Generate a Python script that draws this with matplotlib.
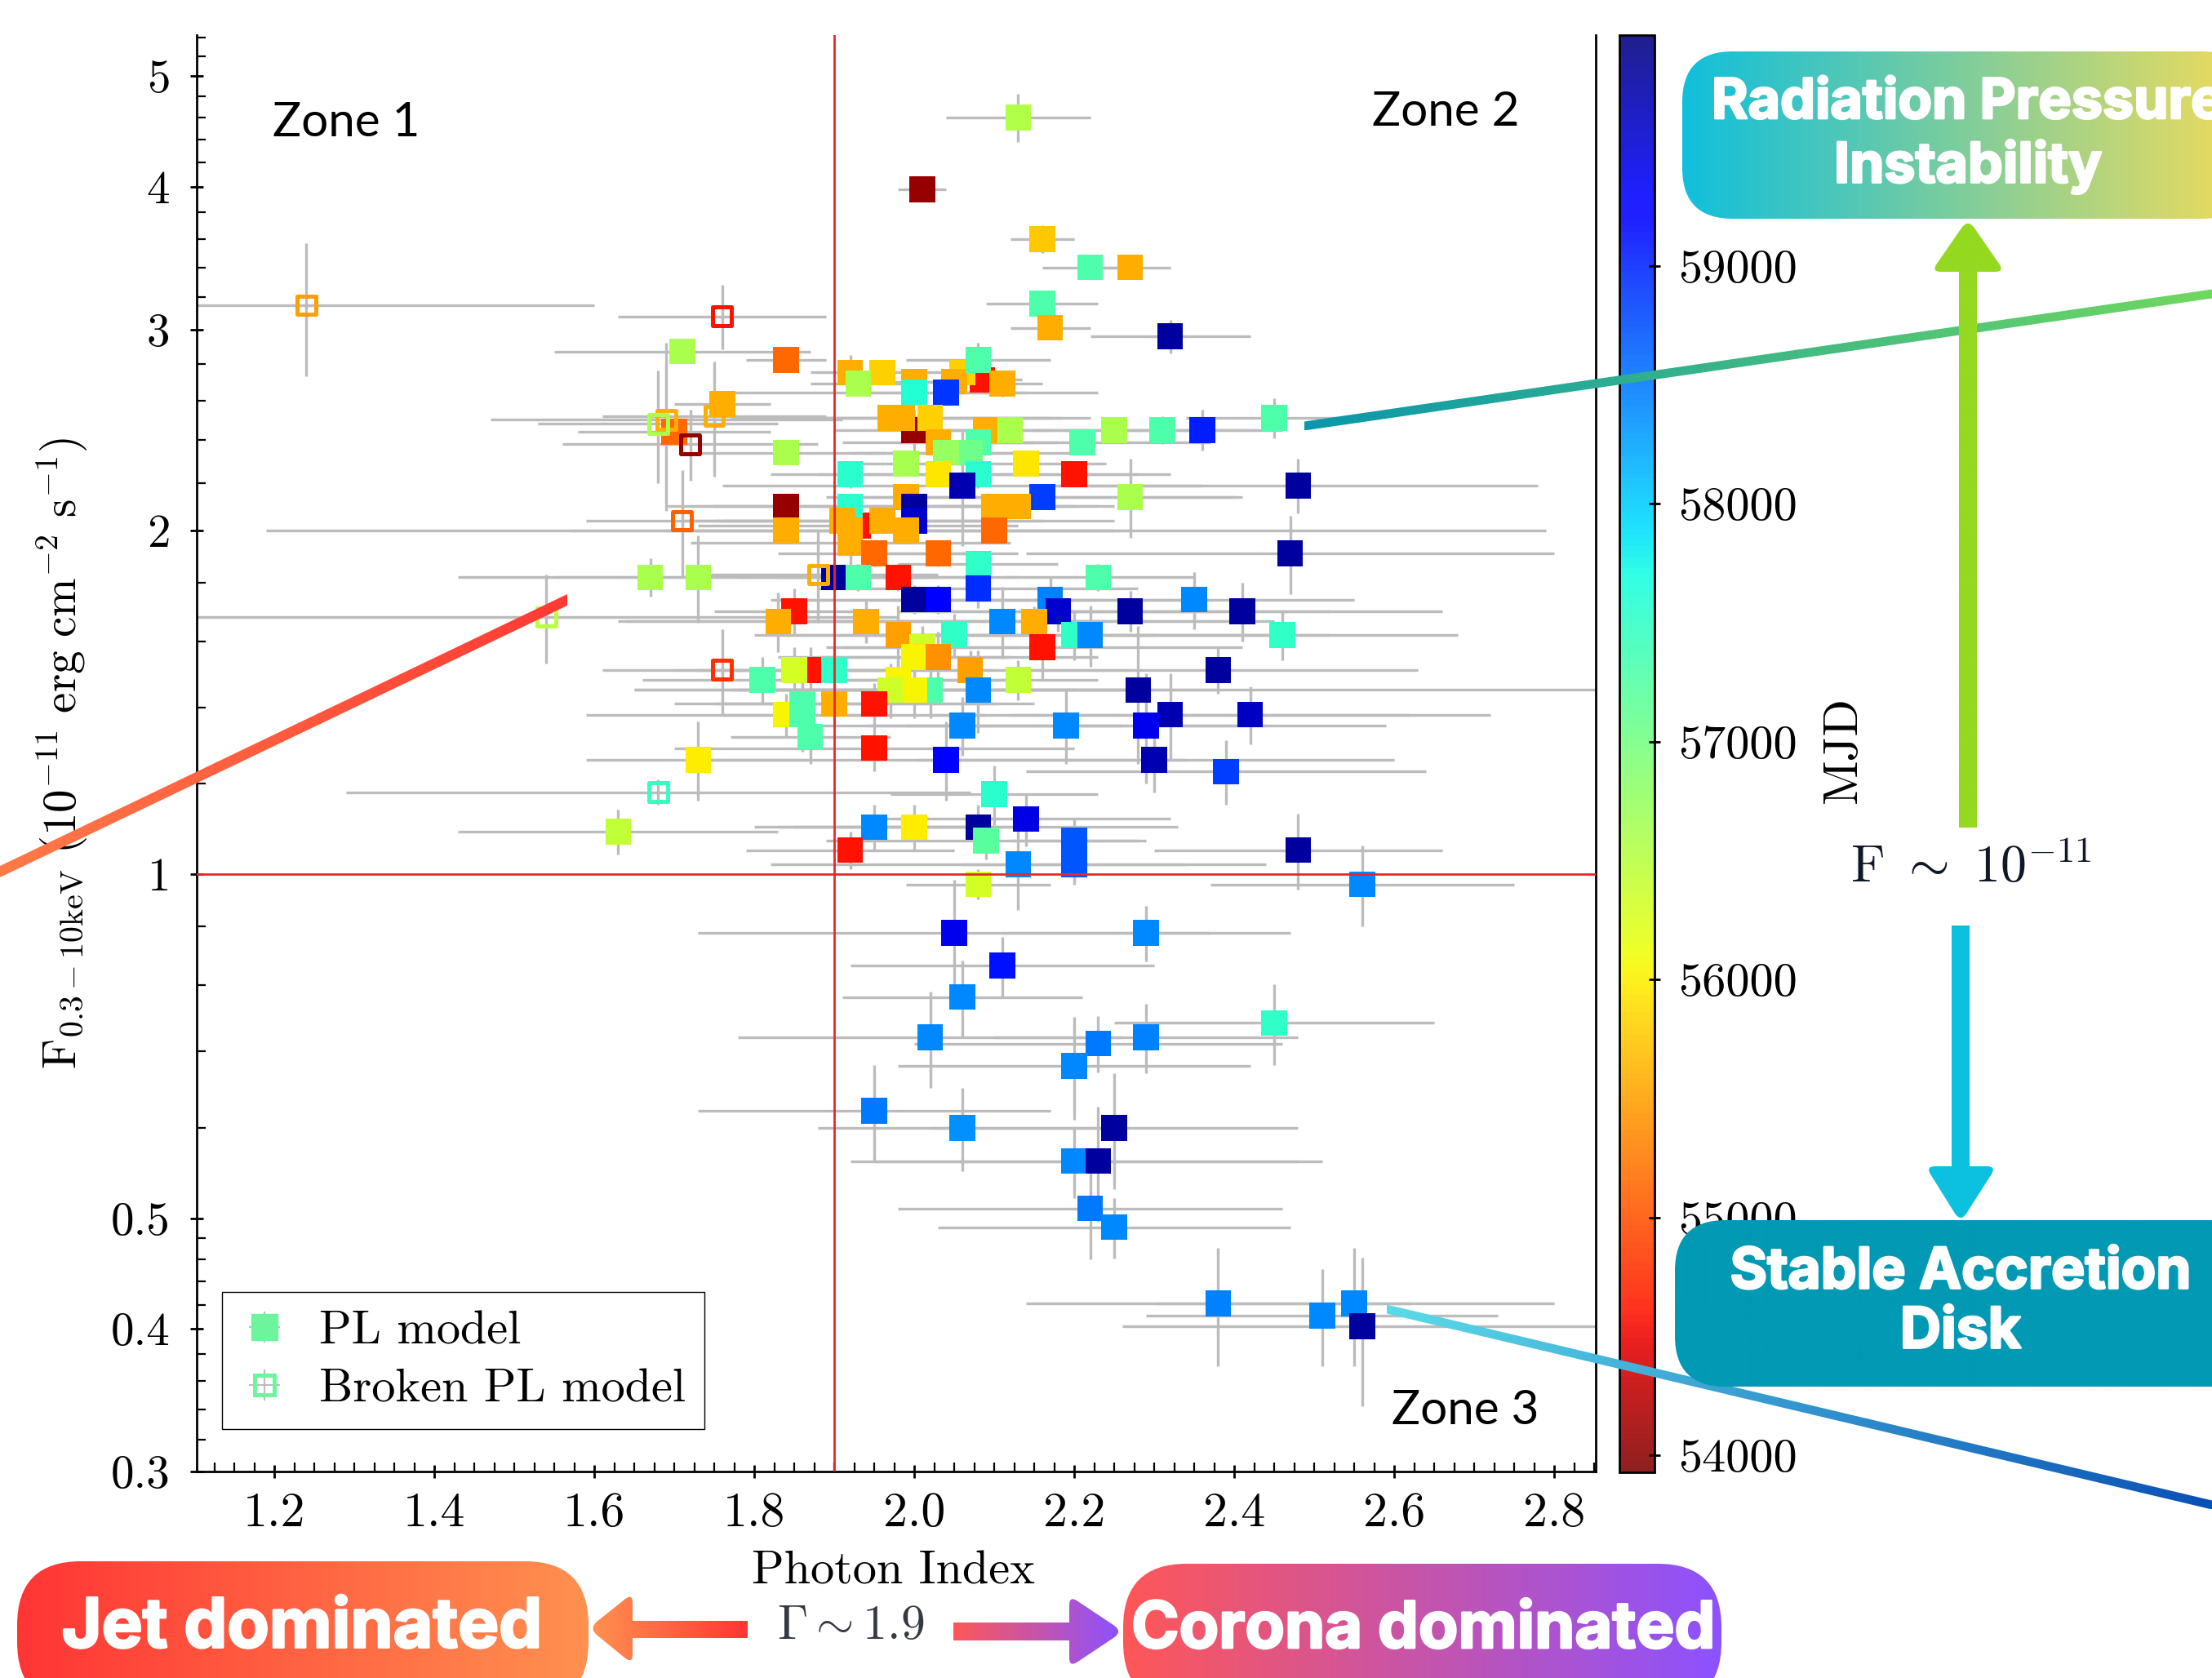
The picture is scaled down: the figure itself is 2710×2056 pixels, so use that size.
import numpy as np
import matplotlib
matplotlib.use('Agg')
import matplotlib.pyplot as plt
import matplotlib.patheffects as pe
from matplotlib.colors import to_rgb
from matplotlib.lines import Line2D
from matplotlib.patches import FancyBboxPatch, PathPatch
from matplotlib.path import Path
from matplotlib.ticker import FixedLocator, FixedFormatter, NullFormatter

plt.rcParams['font.family'] = ['cmr10', 'DejaVu Sans']
plt.rcParams['mathtext.fontset'] = 'cm'
plt.rcParams['axes.formatter.use_mathtext'] = True

W, H = 2710, 2056

# PL model points
pl_gamma = [2.085, 2.00, 1.93, 1.87,
            2.13, 2.01, 2.16, 2.22, 2.27, 2.16, 2.17, 2.32, 1.84, 1.92, 1.96, 2.00, 1.93, 2.06, 2.05, 2.08, 2.11, 2.00, 2.04,
            1.71, 1.76, 1.70, 1.84, 1.97, 1.985, 2.02, 2.03, 2.09, 2.12, 2.08, 2.07, 2.04, 1.99, 2.14, 2.21, 2.25, 2.31, 2.36,
            2.45, 2.20, 1.92, 2.08, 2.03, 2.06, 2.48, 2.27, 2.16, 1.99, 2.00, 2.00, 2.10, 2.13, 1.84, 1.92, 1.84, 1.91, 1.96,
            1.99, 2.10, 1.92, 1.92, 1.95, 2.03, 2.08, 2.47, 1.90, 1.93, 1.98, 1.67, 1.73, 2.23, 2.08, 2.00, 2.03, 2.17, 2.35, 2.18,
            2.27, 2.41, 2.11, 1.85, 1.83, 1.94, 2.15, 1.98, 2.05, 2.20, 2.22, 2.46, 2.16, 2.01, 2.00, 2.03, 2.07, 2.38, 1.85,
            1.90, 1.81, 2.13, 1.98, 2.28, 2.08, 2.02, 2.00, 1.97, 1.86, 1.90, 1.95, 2.32, 2.42, 1.84, 1.86, 2.06, 2.19, 2.29, 1.87,
            1.95, 2.30, 2.04, 1.73, 2.39, 2.10, 1.63,
            1.95, 2.00, 2.08, 2.14, 2.09, 1.92, 2.13, 2.20, 2.20, 2.48, 2.56, 2.08, 2.05, 2.29, 2.11, 2.06, 2.02, 2.23, 2.29, 2.45,
            2.20, 1.95, 2.06, 2.25, 2.20, 2.23, 2.22, 2.25, 2.38, 2.51, 2.55, 2.56]
pl_flux = [2.71, 2.45, 2.02, 1.51,
           4.60, 3.98, 3.60, 3.40, 3.40, 3.16, 3.01, 2.96, 2.82, 2.75, 2.75, 2.70, 2.69, 2.75, 2.70, 2.82, 2.69, 2.64, 2.64,
           2.87, 2.58, 2.44, 2.34, 2.51, 2.51, 2.51, 2.39, 2.45, 2.45, 2.39, 2.34, 2.34, 2.29, 2.29, 2.39, 2.45, 2.45, 2.45,
           2.51, 2.24, 2.24, 2.24, 2.24, 2.19, 2.19, 2.14, 2.14, 2.14, 2.10, 2.04, 2.10, 2.10, 2.10, 2.10, 2.00, 2.04, 2.04,
           2.00, 2.00, 2.00, 1.95, 1.91, 1.91, 1.87, 1.91, 1.82, 1.82, 1.82, 1.82, 1.82, 1.82, 1.78, 1.74, 1.74, 1.74, 1.74, 1.70,
           1.70, 1.70, 1.665, 1.70, 1.665, 1.665, 1.665, 1.62, 1.62, 1.62, 1.62, 1.62, 1.58, 1.58, 1.55, 1.55, 1.51, 1.51, 1.51,
           1.51, 1.48, 1.48, 1.48, 1.45, 1.45, 1.45, 1.45, 1.45, 1.41, 1.41, 1.41, 1.38, 1.38, 1.38, 1.38, 1.35, 1.35, 1.35, 1.32,
           1.29, 1.26, 1.26, 1.26, 1.23, 1.175, 1.09,
           1.10, 1.10, 1.10, 1.118, 1.07, 1.05, 1.02, 1.07, 1.02, 1.05, 0.98, 0.98, 0.889, 0.889, 0.832, 0.781, 0.72, 0.711, 0.72, 0.741,
           0.68, 0.621, 0.60, 0.60, 0.561, 0.561, 0.51, 0.491, 0.421, 0.411, 0.421, 0.402]
pl_gamma_err = [.05, .10, .20, .10,
                .09, .03, .04, .06, .05, .07, .05, .10, .05, .05, .06, .06, .06, .06, .06, .09, .05, .23, .10,
                .16, .06, .12, .12, .20, .20, .20, .12, .08, .10, .10, .15, .10, .08, .10, .16, .10, .12, .10,
                .11, .12, .10, .20, .10, .30, .30, .13, .25, .10, .25, .25, .10, .10, .15, .20, .15, .20, .20,
                .80, .15, .35, .20, .12, .10, .10, .33, .12, .15, .15, .12, .30, .12, .20, .18, .20, .20, .20, .20,
                .25, .25, .30, .10, .20, .30, .30, .15, .25, .25, .30, .22, .25, .12, .12, .20, .20, .25, .12,
                .20, .15, .10, .15, .63, .30, .25, .20, .32, .10, .20, .20, .30, .30, .25, .10, .20, .25, .30, .10,
                .25, .30, .30, .14, .25, .13, .20,
                .15, .15, .25, .18, .20, .13, .31, .08, .14, .18, .19, .09, .32, .18, .19, .15, .24, .23, .19, .20,
                .22, .22, .18, .23, .28, .28, .24, .22, .24, .22, .25, .30]
pl_flux_err = [.05, .10, .05, .07,
               .22, .08, .10, .07, .07, .08, .07, .10, .06, .10, .06, .06, .06, .07, .05, .10, .07, .05, .06,
               .05, .06, .05, .05, .06, .06, .06, .05, .05, .05, .05, .05, .05, .05, .05, .05, .05, .07, .10,
               .10, .05, .06, .06, .05, .25, .12, .17, .05, .05, .05, .05, .05, .05, .05, .05, .05, .05, .05,
               .05, .05, .10, .10, .05, .05, .05, .15, .05, .05, .05, .07, .16, .05, .07, .05, .05, .08, .10, .07,
               .07, .10, .12, .08, .10, .07, .05, .10, .07, .08, .10, .08, .10, .07, .07, .08, .06, .07, .07,
               .07, .07, .06, .06, .20, .12, .08, .08, .08, .10, .06, .06, .12, .08, .06, .10, .08, .10, .15, .07,
               .06, .08, .10, .10, .08, .07, .05,
               .05, .05, .05, .06, .04, .04, .09, .05, .04, .08, .08, .03, .10, .05, .05, .06, .07, .04, .05, .06,
               .07, .06, .05, .07, .04, .065, .05, .03, .05, .04, .05, .06]
pl_mjd = [54600, 54050, 54600, 54600,
          56550, 54050, 55750, 57300, 55600, 57300, 55600, 59800, 55150, 55600, 55800, 55600, 56600, 55800, 55600, 57300, 55600, 57600, 58900,
          56600, 55600, 55150, 56600, 55600, 55600, 55800, 55600, 55600, 56600, 57300, 57050, 56750, 56620, 55950, 57300, 56600, 57300, 59050,
          57300, 54600, 57550, 57550, 55950, 59700, 59800, 56600, 58850, 55600, 59800, 59550, 55600, 55600, 54050, 57550, 55600, 55600, 55600,
          55600, 55150, 55600, 55600, 55150, 55150, 57500, 59800, 59800, 57300, 54600, 56600, 56600, 57300, 58950, 59800, 59200, 58450, 58400, 59550,
          59800, 59800, 58400, 54600, 55600, 55600, 55600, 55500, 57500, 57500, 58400, 57500, 54600, 56350, 56050, 55400, 55500, 59800, 56300,
          57500, 57300, 56450, 56050, 59800, 58400, 57300, 56050, 56350, 57300, 55600, 54600, 59700, 59600, 56050, 57300, 58400, 58400, 59400, 57300,
          54600, 59700, 59300, 56000, 58850, 57550, 56450,
          58400, 56000, 59800, 59450, 57200, 54600, 58400, 58700, 58700, 59800, 58400, 56300, 59400, 58400, 59100, 58400, 58400, 58500, 58450, 57500,
          58400, 58500, 58350, 59800, 58400, 59800, 58500, 58400, 58450, 58400, 58400, 59800]

# Broken PL model points
bpl_gamma = [1.24, 1.54, 1.76, 1.75, 1.69, 1.68, 1.72, 1.71, 1.88, 1.76, 1.68]
bpl_flux = [3.15, 1.68, 3.08, 2.52, 2.50, 2.48, 2.38, 2.04, 1.83, 1.51, 1.18]
bpl_gamma_err = [.36, .44, .13, .14, .22, .15, .16, .12, .15, .15, .39]
bpl_flux_err = [.42, .15, .20, .29, .42, .28, .17, .22, .17, .13, .03]
bpl_mjd = [55500, 56500, 54600, 55600, 55600, 56600, 54050, 55100, 55600, 54800, 57450]

x_ticks = [1.2, 1.4, 1.6, 1.8, 2.0, 2.2, 2.4, 2.6, 2.8]
y_ticks = [0.3, 0.4, 0.5, 1, 2, 3, 4, 5]
y_labels = ['0.3', '0.4', '0.5', '1', '2', '3', '4', '5']
y_minor = [0.32, 0.34, 0.36, 0.38, 0.42, 0.44, 0.46, 0.48, 0.6, 0.7, 0.8, 0.9,
           1.2, 1.4, 1.6, 1.8, 2.2, 2.4, 2.6, 2.8, 3.2, 3.4, 3.6, 3.8, 4.2, 4.4, 4.6, 4.8, 5.2, 5.4]
cbar_ticks = [54000, 55000, 56000, 57000, 58000, 59000]
zone_labels = ['Zone 1', 'Zone 2', 'Zone 3']
zone_gamma = [1.29, 2.664, 2.689]
zone_flux = [4.55, 4.65, 0.339]


def round_poly(verts, radii):
    # polygon with quadratic rounded corners, radius per vertex
    verts = np.array(verts, float)
    n = len(verts)
    pts, codes = [], []
    for i in range(n):
        p, a, b = verts[i], verts[i - 1], verts[(i + 1) % n]
        r = radii[i]
        if r == 0:
            pts.append(p)
            codes.append(Path.LINETO)
            continue
        p0 = p + (a - p) / np.linalg.norm(a - p) * r
        p1 = p + (b - p) / np.linalg.norm(b - p) * r
        pts += [p0, p, p1]
        codes += [Path.LINETO, Path.CURVE3, Path.CURVE3]
    codes[0] = Path.MOVETO
    pts.append(pts[0])
    codes.append(Path.CLOSEPOLY)
    return Path(pts, codes)


def gradient_fill(ov, path, c0, c1, z):
    # horizontal colour ramp clipped to a path
    box = path.get_extents()
    n = 256
    t = np.linspace(0, 1, n)[None, :, None]
    img = (1 - t) * np.array(to_rgb(c0))[None, None, :] + t * np.array(to_rgb(c1))[None, None, :]
    im = ov.imshow(img, extent=[box.x0, box.x1, box.y1, box.y0], aspect='auto', zorder=z, interpolation='bilinear')
    patch = PathPatch(path, fc='none', ec='none', transform=ov.transData)
    ov.add_patch(patch)
    im.set_clip_path(patch)


def round_box(x0, y0, x1, y1, r):
    p = FancyBboxPatch((x0, y0), x1 - x0, y1 - y0, boxstyle=f'round,pad=0,rounding_size={r}')
    return p.get_path()


def thick_line(x0, y0, x1, y1, w):
    return Path([(x0, y0 - w / 2), (x1, y1 - w / 2), (x1, y1 + w / 2), (x0, y0 + w / 2), (x0, y0 - w / 2)])


fig = plt.figure(figsize=(W / 100, H / 100), dpi=100)
ax = fig.add_axes([241 / W, 1 - 1803 / H, (1955 - 241) / W, (1803 - 43) / H])
cax = fig.add_axes([1984 / W, 1 - 1804 / H, (2027 - 1984) / W, (1804 - 43) / H])

ax.errorbar(pl_gamma, pl_flux, xerr=pl_gamma_err, yerr=pl_flux_err, fmt='none', ecolor='#bcbcbc', elinewidth=2.4, zorder=1)
ax.errorbar(bpl_gamma, bpl_flux, xerr=bpl_gamma_err, yerr=bpl_flux_err, fmt='none', ecolor='#bcbcbc', elinewidth=2.4, zorder=1)
cmap = plt.get_cmap('jet_r')
sc = ax.scatter(pl_gamma, pl_flux, c=pl_mjd, cmap=cmap, vmin=53928, vmax=59971, marker='s', s=520, linewidths=0, zorder=2)
ax.scatter(bpl_gamma, bpl_flux, c='none', edgecolors=cmap((np.array(bpl_mjd) - 53928) / 6043), marker='s', s=270, linewidths=3.6, zorder=3)
ax.axhline(1, color='#e8262c', lw=2, zorder=4)
ax.axvline(1.9, color='#e8262c', lw=2, zorder=4)

ax.set_yscale('log')
ax.set_xlim(1.103, 2.852)
ax.set_ylim(0.3, 5.43)
ax.spines['top'].set_visible(False)
ax.spines['left'].set_linewidth(2)
ax.spines['bottom'].set_linewidth(2)
ax.spines['right'].set_linewidth(2)
ax.xaxis.set_major_locator(FixedLocator(x_ticks))
ax.xaxis.set_major_formatter(FixedFormatter([f'{v:.1f}' for v in x_ticks]))
ax.xaxis.set_minor_locator(FixedLocator(np.arange(1.125, 2.86, 0.025)))
ax.yaxis.set_major_locator(FixedLocator(y_ticks))
ax.yaxis.set_major_formatter(FixedFormatter(y_labels))
ax.yaxis.set_minor_locator(FixedLocator(y_minor))
ax.yaxis.set_minor_formatter(NullFormatter())
ax.tick_params(which='major', direction='inout', length=11, width=2)
ax.tick_params(which='minor', direction='in', length=8, width=1.6)
ax.tick_params(axis='x', which='major', labelsize=43, pad=13)
ax.tick_params(axis='y', which='major', labelsize=41, pad=18)
ax.set_xlabel('Photon Index', fontsize=42, labelpad=13, x=0.498)
ax.set_ylabel(r'$\mathrm{F}_{0.3-10\mathrm{keV}}\ (10^{-11}\ \mathrm{erg\ cm}^{-2}\ \mathrm{s}^{-1})$', fontsize=41, labelpad=19)
for lab, gx, fy in zip(zone_labels, zone_gamma, zone_flux):
    ax.text(gx, fy, lab, fontsize=42, family='Lato', ha='center', va='center', zorder=5)

cross = dict(marker='+', ls='none', mec='#bcbcbc', mew=1.5, ms=27)
handles = [
    (Line2D([], [], **cross), Line2D([], [], marker='s', ls='none', mfc='#6df59d', mec='#6df59d', ms=23)),
    (Line2D([], [], **cross), Line2D([], [], marker='s', ls='none', mfc='none', mec='#6df59d', mew=3.6, ms=17)),
]
ax.legend(handles, ['PL model', 'Broken PL model'], loc='lower left', bbox_to_anchor=(31 / 1714, 52 / 1760), fontsize=42, fancybox=False,
          edgecolor='k', framealpha=1, borderpad=0.39, labelspacing=0.32, handlelength=1.0, handletextpad=0.65, borderaxespad=0)

cb = fig.colorbar(sc, cax=cax)
cb.set_ticks(cbar_ticks)
cb.set_ticklabels([str(v) for v in cbar_ticks])
cb.ax.tick_params(direction='inout', length=10, width=2, labelsize=42, pad=16)
cb.outline.set_linewidth(2)
cb.solids.set_alpha(0.88)
cb.set_label('MJD', fontsize=43)
cax.yaxis.set_label_coords((2232 - 1984) / 43, (1804 - 918) / 1761)

# annotation layer, in picture pixels
ov = fig.add_axes([0, 0, 1, 1], zorder=10)
ov.patch.set_alpha(0)
ov.axis('off')
ov.set_autoscale_on(False)
ov.set_xlim(0, W)
ov.set_ylim(H, 0)

gradient_fill(ov, thick_line(0, 1068, 695, 735, 14), '#ff7a48', '#ff3a34', 11)
gradient_fill(ov, thick_line(1598, 522, 2710, 360, 11), '#0b97ac', '#70d860', 11)
gradient_fill(ov, thick_line(1699, 1604, 2710, 1844, 11), '#5cdbe8', '#0a50b5', 11)

gradient_fill(ov, round_box(2061, 63, 2760, 268, 62), '#10bfdc', '#f2dc5a', 12)
gradient_fill(ov, round_box(2052, 1495, 2800, 1699, 62), '#0299b4', '#0299b4', 12)
gradient_fill(ov, round_box(21, 1913, 721, 2090, 78), '#ff3535', '#ff9150', 12)
gradient_fill(ov, round_box(1376, 1916, 2109, 2090, 78), '#ff5757', '#8c52ff', 12)

head_r = [0, 0, 12, 14, 12, 0, 0]
up = [(2400, 1014), (2400, 333), (2366, 333), (2411, 268), (2456, 333), (2422, 333), (2422, 1014)]
down = [(2391, 1134), (2391, 1429), (2359, 1429), (2402, 1498), (2446, 1429), (2413, 1429), (2413, 1134)]
left = [(916, 1986), (775, 1986), (775, 1952), (721, 1995), (775, 2039), (775, 2007), (916, 2007)]
right = [(1168, 1988), (1310, 1988), (1310, 1955), (1376, 1999), (1310, 2043), (1310, 2010), (1168, 2010)]
gradient_fill(ov, round_poly(up, head_r), '#95d920', '#95d920', 13)
gradient_fill(ov, round_poly(down, head_r), '#0cc0df', '#0cc0df', 13)
gradient_fill(ov, round_poly(left, head_r), '#ff9150', '#ff3535', 13)
gradient_fill(ov, round_poly(right, head_r), '#ff5757', '#8c52ff', 13)

bold = dict(family='Inter', weight='bold', color='white', ha='center', va='center', zorder=14,
            path_effects=[pe.withStroke(linewidth=2, foreground='white')])
ov.text(2411, 127, 'Radiation Pressure', fontsize=49, **bold)
ov.text(2411, 204, 'Instability', fontsize=49, **bold)
ov.text(2402, 1560, 'Stable Accretion', fontsize=50, **bold)
ov.text(2402, 1633, 'Disk', fontsize=50, **bold)
ov.text(370, 1996, 'Jet dominated', fontsize=60.5, **bold)
ov.text(1744, 1998, 'Corona dominated', fontsize=57, **bold)
ov.text(2415, 1064, r'$\mathrm{F}\ \sim\ 10^{-11}$', fontsize=46, color='#101828', ha='center', va='center', zorder=14)
ov.text(1042, 1993, r'$\Gamma\sim 1.9$', fontsize=43, color='#333a44', ha='center', va='center', zorder=14)

fig.savefig('out.png', dpi=100)
